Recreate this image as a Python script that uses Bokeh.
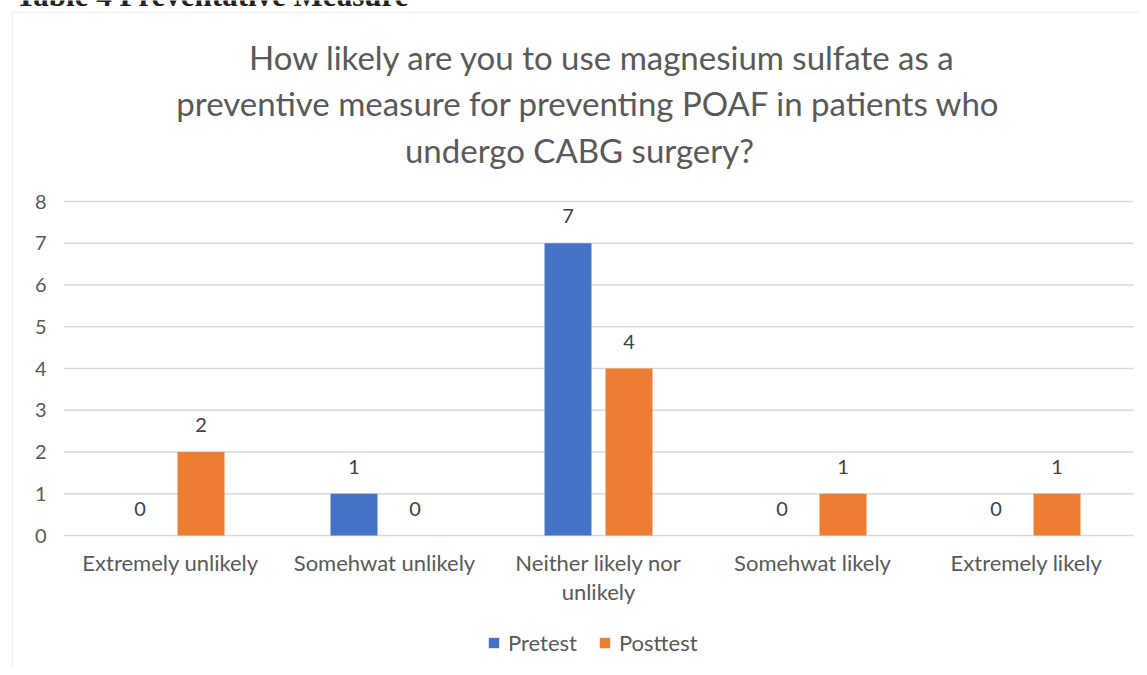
from bokeh.plotting import figure
from bokeh.models import (ColumnDataSource, LabelSet, Label, Legend, LegendItem,
                          Range1d, BoxAnnotation)
from bokeh.core.properties import value
from bokeh.embed import file_html
from bokeh.resources import INLINE

# ---- data ----
categories = ["Extremely unlikely", "Somehwat unlikely", "Neither likely nor unlikely",
              "Somehwat likely", "Extremely likely"]
pretest = [0, 1, 7, 0, 0]
posttest = [2, 0, 4, 1, 1]
series_names = ["Pretest", "Posttest"]
y_ticks = [0, 1, 2, 3, 4, 5, 6, 7, 8]
title_lines = ["How likely are you to use magnesium sulfate as a",
               "preventive measure for preventing POAF in patients who",
               "undergo CABG surgery?"]
heading = "Table 4 Preventative Measure"
cat_line1 = ["Extremely unlikely", "Somehwat unlikely", "Neither likely nor",
             "Somehwat likely", "Extremely likely"]
cat_line2 = ["", "", "unlikely", "", ""]

# ---- layout (pixels of the canvas) ----
W, H = 1139, 667
PLOT_L, PLOT_R, PLOT_T, PLOT_B = 63, 1133, 201, 535
YMAX = 8
n = len(categories)
PX_X = (PLOT_R - PLOT_L) / n          # pixels per category
PX_Y = (PLOT_B - PLOT_T) / YMAX       # pixels per unit


def px2x(px):
    return (px - PLOT_L) / PX_X


def px2y(py):
    return (PLOT_B - py) / PX_Y


FONT = "Lato"
GREY = "#595959"
BLUE = "#4472C4"
ORANGE = "#ED7D31"
GRID = "#d9d9d9"

p = figure(x_range=Range1d(px2x(0), px2x(W)), y_range=Range1d(px2y(H), px2y(0)),
           width=W, height=H, output_backend="svg", toolbar_location=None,
           min_border=0)
p.axis.visible = False
p.grid.visible = False
p.outline_line_color = None

# chart-area border
p.add_layout(BoxAnnotation(left=px2x(12), top=px2y(12), right=px2x(W + 50),
                           bottom=px2y(H + 50), fill_alpha=0,
                           line_color="#d4d4d4", line_width=1.5))

# cut-off document heading above the chart
p.add_layout(Label(x=px2x(15), y=px2y(-5), text=heading, text_align="left",
                   text_baseline="alphabetic", text_font="Liberation Serif",
                   text_font_style="bold", text_font_size="31px",
                   text_color="#222222"))

# horizontal gridlines
cat_x = [i + 0.5 for i in range(n)]
p.segment(x0=[0] * len(y_ticks), x1=[n] * len(y_ticks), y0=y_ticks, y1=y_ticks,
          line_color=GRID, line_width=1.3)

# y tick labels
p.add_layout(LabelSet(x=px2x(46), y="y", text="t",
                      source=ColumnDataSource(dict(y=y_ticks, t=[str(v) for v in y_ticks])),
                      text_align="right", text_baseline="middle", text_font=value(FONT),
                      text_font_size="20px", text_color=GREY))

# bars
OFF = 30.5 / PX_X
BW = 47 / PX_X
src = ColumnDataSource(dict(
    xpre=[c - OFF for c in cat_x], xpost=[c + OFF for c in cat_x],
    pre=pretest, post=posttest,
    pre_lbl=[str(v) for v in pretest], post_lbl=[str(v) for v in posttest]))
r_pre = p.vbar(x="xpre", top="pre", width=BW, source=src, fill_color=BLUE, line_color=None)
r_post = p.vbar(x="xpost", top="post", width=BW, source=src, fill_color=ORANGE, line_color=None)

for xf, field, lbl in (("xpre", "pre", "pre_lbl"), ("xpost", "post", "post_lbl")):
    p.add_layout(LabelSet(x=xf, y=field, text=lbl, source=src, y_offset=27,
                          text_align="center", text_baseline="middle",
                          text_font=value(FONT), text_font_size="20px",
                          text_color="#404040"))

# category labels
csrc = ColumnDataSource(dict(x=cat_x, y=[0] * n, l1=cat_line1, l2=cat_line2))
for lbl, off in (("l1", -27), ("l2", -56)):
    p.add_layout(LabelSet(x="x", y="y", text=lbl, source=csrc, y_offset=off,
                          text_align="center", text_baseline="middle",
                          text_font=value(FONT), text_font_size="22px",
                          text_color=GREY))

# title
for line, tx, ty in zip(title_lines, (602, 588, 579), (56, 102, 149)):
    p.add_layout(Label(x=px2x(tx), y=px2y(ty), text=line, text_align="center",
                       text_baseline="middle", text_font=FONT,
                       text_font_size="33px", text_color=GREY))

legend = Legend(items=[LegendItem(label=series_names[0], renderers=[r_pre]),
                       LegendItem(label=series_names[1], renderers=[r_post])],
                orientation="horizontal", location=(487, 11))
legend.glyph_width = 13
legend.glyph_height = 13
legend.label_text_font = FONT
legend.label_text_font_size = "22px"
legend.label_text_color = GREY
legend.spacing = 21
legend.label_standoff = 8
legend.border_line_color = None
legend.background_fill_alpha = 0
legend.padding = 0
legend.margin = 0
p.add_layout(legend)

open("out.html", "w").write(file_html(p, INLINE))
